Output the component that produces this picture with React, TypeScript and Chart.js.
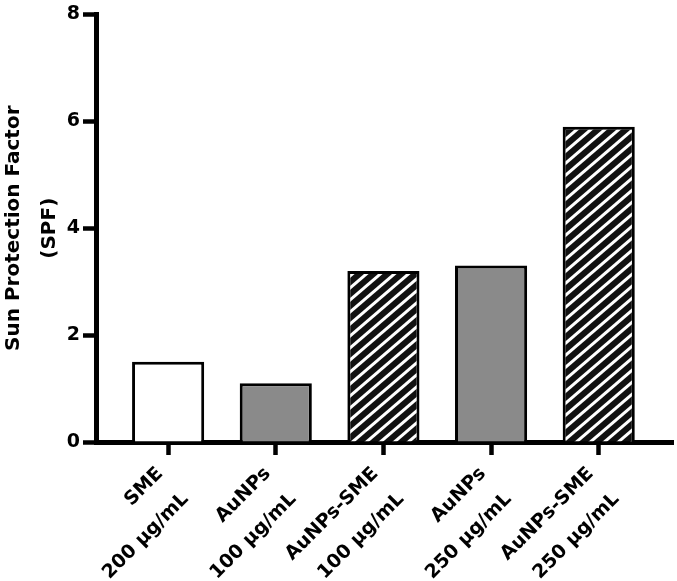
import { useEffect, useRef } from 'react';
import { Chart, registerables } from 'chart.js';

Chart.register(...registerables);

const groups = ['SME', 'AuNPs', 'AuNPs-SME', 'AuNPs', 'AuNPs-SME'];
const doses = ['200 μg/mL', '100 μg/mL', '100 μg/mL', '250 μg/mL', '250 μg/mL'];
const spfValues = [1.5, 1.1, 3.2, 3.3, 5.9];
const yTicks = [0, 2, 4, 6, 8];

const FONT = 'DejaVu Sans';

// black bars with thin white diagonal stripes
function makeHatch(): CanvasPattern | string {
  const w = 14;
  const h = 12;
  const c = document.createElement('canvas');
  c.width = w;
  c.height = h;
  const g = c.getContext('2d');
  if (!g) return '#222';
  g.fillStyle = '#111';
  g.fillRect(0, 0, w, h);
  g.strokeStyle = '#fff';
  g.lineWidth = 3;
  for (const k of [-1, 0, 1]) {
    g.beginPath();
    g.moveTo(-w, 2 * h + k * h);
    g.lineTo(2 * w, -h + k * h);
    g.stroke();
  }
  return g.createPattern(c, 'repeat') || '#222';
}

export default function App() {
  const canvasRef = useRef<HTMLCanvasElement>(null);
  const chartRef = useRef<Chart | null>(null);

  useEffect(() => {
    if (!canvasRef.current) return;
    const hatch = makeHatch();
    const fillFor = (g: string) =>
      g === 'SME' ? '#ffffff' : g === 'AuNPs' ? '#8a8a8a' : hatch;

    chartRef.current = new Chart(canvasRef.current, {
      type: 'bar',
      data: {
        datasets: [
          {
            data: spfValues.map((v, i) => ({ x: i + 1, y: v })),
            backgroundColor: groups.map(fillFor) as any,
            borderColor: '#000',
            borderWidth: 3,
            categoryPercentage: 1,
            barPercentage: 0.67,
          },
        ],
      },
      options: {
        animation: false,
        responsive: true,
        maintainAspectRatio: false,
        layout: { padding: { left: 0, top: 14, right: 4, bottom: 0 } },
        plugins: {
          legend: { display: false },
          tooltip: { enabled: false },
        },
        scales: {
          x: {
            type: 'linear',
            offset: false,
            min: 0.33,
            max: 5.69,
            afterBuildTicks: (s: any) => {
              s.ticks = groups.map((_, i) => ({ value: i + 1 }));
            },
            afterFit: (s: any) => {
              s.height = 139;
            },
            grid: {
              offset: false,
              drawOnChartArea: false,
              tickLength: 13,
              tickWidth: 4.5,
              tickColor: '#000',
            },
            border: { display: true, color: '#000', width: 5 },
            ticks: {
              autoSkip: false,
              minRotation: 45,
              maxRotation: 45,
              padding: 3,
              labelOffset: -8,
              color: '#000',
              font: { family: FONT, size: 19, weight: 'bold', lineHeight: 1.9 },
              callback: (_v: any, i: number) => [groups[i], doses[i]],
            },
          },
          y: {
            min: 0,
            max: 8,
            afterBuildTicks: (s: any) => {
              s.ticks = yTicks.map((v) => ({ value: v }));
            },
            afterFit: (s: any) => {
              s.width = 96;
            },
            grid: {
              drawOnChartArea: false,
              tickLength: 13,
              tickWidth: 4.5,
              tickColor: '#000',
            },
            border: { display: true, color: '#000', width: 5 },
            ticks: {
              padding: 3,
              color: '#000',
              font: { family: FONT, size: 19, weight: 'bold' },
            },
            title: {
              display: true,
              text: ['Sun Protection Factor', '(SPF)'],
              color: '#000',
              font: { family: FONT, size: 20, weight: 'bold', lineHeight: 1.8 },
              padding: { top: -4, bottom: 0 },
            },
          },
        },
      },
    });

    return () => {
      chartRef.current?.destroy();
    };
  }, []);

  return (
    <div
      style={{
        position: 'fixed',
        left: 0,
        top: 0,
        width: 677,
        height: 581,
        background: '#fff',
      }}
    >
      <canvas ref={canvasRef} style={{ display: 'block' }} />
    </div>
  );
}
